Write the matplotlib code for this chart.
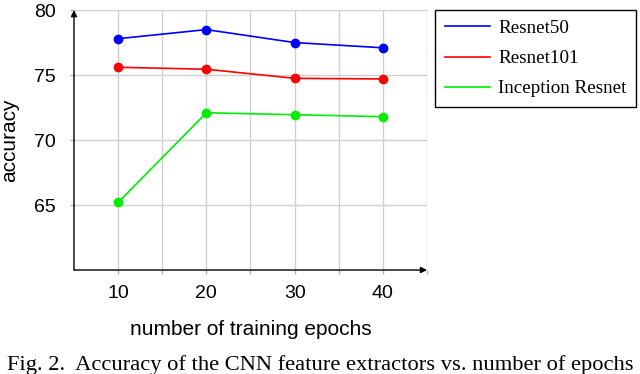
#Accuracy of CNN feature extractors vs number of epochs
import matplotlib.pyplot as plt

#Data
epochs = [10, 20, 30, 40]
resnet50 = [77.8, 78.5, 77.5, 77.1]
resnet101 = [75.6, 75.45, 74.75, 74.7]
inception = [65.2, 72.1, 71.95, 71.8]

plt.rcParams['font.family'] = ['Liberation Sans', 'DejaVu Sans']

fig = plt.figure(figsize=(6.4, 3.74), dpi=100)
ax = fig.add_axes([0.1156, 0.278, 0.5516, 0.695])

ax.plot(epochs, resnet50, color='#0000ff', marker='o', markersize=6, lw=1.2)
ax.plot(epochs, resnet101, color='#ff0000', marker='o', markersize=6, lw=1.2)
ax.plot(epochs, inception, color='#00ee00', marker='o', markersize=6, lw=1.2)

ax.set_xlim(5, 45)
ax.set_ylim(60, 80)
ax.set_xticks([10, 20, 30, 40])
ax.set_xticks([15, 25, 35, 45], minor=True)
ax.set_yticks([65, 70, 75, 80])
ax.grid(True, which='both', color='#d0d0d0', lw=1)
ax.set_axisbelow(True)
ax.tick_params(which='both', length=3, width=1, color='#b0b0b0', labelsize=14)
ax.tick_params(axis='x', pad=8)
ax.tick_params(axis='y', pad=10)

for s in ['top', 'right', 'left', 'bottom']:
    ax.spines[s].set_visible(False)

#Axis arrows
ax.annotate('', xy=(1.0, 0), xytext=(0, 0), xycoords='axes fraction',
            arrowprops=dict(arrowstyle='-|>', color='black', lw=1, mutation_scale=9, shrinkA=0, shrinkB=0))
ax.annotate('', xy=(0, 1.0), xytext=(0, 0), xycoords='axes fraction',
            arrowprops=dict(arrowstyle='-|>', color='black', lw=1, mutation_scale=9, shrinkA=0, shrinkB=0))

ax.set_xlabel('number of training epochs', fontsize=15, labelpad=13)
ax.set_ylabel('accuracy', fontsize=15, labelpad=11)

#Legend lines only
h1, = ax.plot([], [], color='#0000ff', lw=1.2)
h2, = ax.plot([], [], color='#ff0000', lw=1.2)
h3, = ax.plot([], [], color='#00ee00', lw=1.2)
leg = ax.legend([h1, h2, h3], ['Resnet50', 'Resnet101', 'Inception Resnet'],
                loc='upper left', bbox_to_anchor=(0.68, 0.973), bbox_transform=fig.transFigure,
                prop={'family': 'Liberation Serif', 'size': 13.7}, fancybox=False,
                edgecolor='black', framealpha=1, handlelength=2.4, handletextpad=0.4,
                labelspacing=0.68, borderpad=0.5, borderaxespad=0)
leg.get_frame().set_linewidth(1)

fig.text(0.5, 0.011, 'Fig. 2.  Accuracy of the CNN feature extractors vs. number of epochs',
         ha='center', va='baseline', fontsize=16.2, family='Liberation Serif')

plt.savefig('out.png')
